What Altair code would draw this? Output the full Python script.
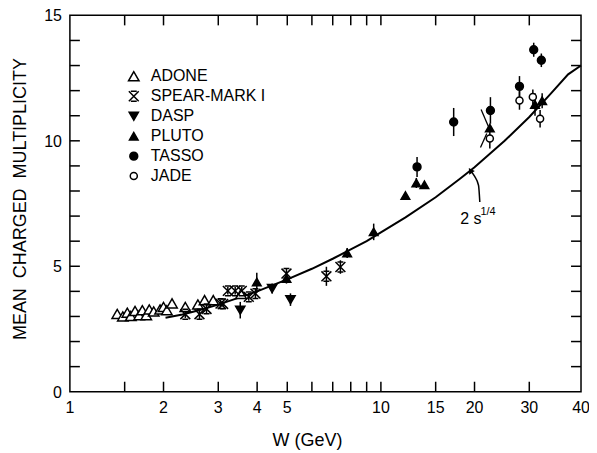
import altair as alt
import pandas as pd

# ---------------- data ----------------
series = ["ADONE", "SPEAR-MARK I", "DASP", "PLUTO", "TASSO", "JADE"]

adone_w = [1.42, 1.48, 1.53, 1.57, 1.62, 1.67, 1.71, 1.76, 1.80, 1.86, 1.95, 2.00, 2.05, 2.13, 2.35, 2.58, 2.71, 2.89, 3.55]
adone_m = [3.10, 3.00, 3.15, 3.02, 3.22, 3.05, 3.25, 3.05, 3.28, 3.20, 3.28, 3.38, 3.25, 3.52, 3.38, 3.48, 3.65, 3.65, 3.90]
adone_e = [0] * 19

spear_w = [2.35, 2.61, 2.75, 3.05, 3.11, 3.22, 3.40, 3.57, 3.76, 3.95, 4.97, 6.68, 7.41]
spear_m = [3.09, 3.09, 3.30, 3.51, 3.50, 4.02, 4.02, 4.02, 3.78, 3.91, 4.71, 4.60, 4.97]
spear_e = [0.15, 0.20, 0.20, 0.15, 0.10, 0.15, 0.15, 0.15, 0.15, 0.20, 0.20, 0.38, 0.27]

dasp_w = [3.53, 4.47, 5.12]
dasp_m = [3.25, 4.11, 3.67]
dasp_e = [0.33, 0.20, 0.25]

pluto_w = [3.99, 4.97, 7.79, 9.48, 11.99, 13.0, 13.8, 22.4, 31.3, 33.0]
pluto_m = [4.37, 4.51, 5.53, 6.37, 7.82, 8.32, 8.25, 10.51, 11.45, 11.60]
pluto_e = [0.37, 0.20, 0.20, 0.33, 0.0, 0.20, 0.0, 0.0, 0.45, 0.30]

tasso_w = [13.07, 17.14, 22.5, 27.9, 31.0, 32.8]
tasso_m = [8.96, 10.75, 11.21, 12.17, 13.63, 13.21]
tasso_e = [0.40, 0.56, 0.53, 0.41, 0.28, 0.27]

jade_w = [22.4, 27.9, 30.8, 32.5]
jade_m = [10.09, 11.61, 11.75, 10.88]
jade_e = [0.40, 0.37, 0.30, 0.35]

# theory curve 2 s^(1/4)
curve_w = [2.03, 2.3, 2.6, 3.0, 3.5, 4.0, 5.0, 6.0, 7.0, 8.0, 9.0, 10, 12, 15, 18, 20, 25, 30, 35, 40, 44]
curve_m = [2.95, 3.08, 3.25, 3.47, 3.75, 4.0, 4.48, 4.9, 5.3, 5.67, 6.0, 6.35, 6.95, 7.75, 8.5, 8.95, 10.0, 10.95, 11.85, 12.65, 13.0]

# slanted error marks on the PLUTO point near 22 GeV
slash_w1 = [21.0, 20.9]
slash_m1 = [11.25, 9.73]
slash_w2 = [22.2, 21.9]
slash_m2 = [10.55, 10.29]

# arrow pointing at the curve
arrow_w = [20.8, 20.6, 20.0, 19.4]
arrow_m = [7.56, 8.23, 8.59, 8.82]

# axis ticks and labels
X_MIN, X_MAX, Y_MIN, Y_MAX = 1, 44, 0, 15
x_ticks = [1.5, 2, 3, 4, 5, 6, 7, 8, 9, 10, 15, 20, 30]
x_label_vals = [1, 2, 3, 4, 5, 10, 15, 20, 30, 44]
x_label_text = ["1", "2", "3", "4", "5", "10", "15", "20", "30", "40"]
y_ticks = list(range(1, 15))
y_label_vals = [0, 5, 10, 15]
y_label_text = ["0", "5", "10", "15"]
x_title = "W (GeV)"
y_title = "MEAN\u00a0\u00a0CHARGED\u00a0\u00a0MULTIPLICITY"

# ---------------- tables ----------------
rows = []
for name, ws, ms, es in [
    ("ADONE", adone_w, adone_m, adone_e),
    ("SPEAR-MARK I", spear_w, spear_m, spear_e),
    ("DASP", dasp_w, dasp_m, dasp_e),
    ("PLUTO", pluto_w, pluto_m, pluto_e),
    ("TASSO", tasso_w, tasso_m, tasso_e),
    ("JADE", jade_w, jade_m, jade_e),
]:
    for w, m, e in zip(ws, ms, es):
        rows.append({"exp": name, "W": w, "M": m, "lo": m - e, "hi": m + e, "e": e})
pts = pd.DataFrame(rows)
errs = pts[pts["e"] > 0]

curve = pd.DataFrame({"W": curve_w, "M": curve_m})
slash = pd.DataFrame({"W": slash_w1, "M": slash_m1, "W2": slash_w2, "M2": slash_m2})
arrow = pd.DataFrame({"W": arrow_w, "M": arrow_m, "o": list(range(len(arrow_w)))})
head = arrow.tail(1)
ann_main = pd.DataFrame({"W": [18.0], "M": [6.67], "t": ["2 s"]})
ann_sup = pd.DataFrame({"W": [20.9], "M": [7.05], "t": ["1/4"]})
xl = pd.DataFrame({"W": x_label_vals, "t": x_label_text})
yl = pd.DataFrame({"M": y_label_vals, "t": y_label_text})
xtitle = pd.DataFrame({"t": [x_title]})
ytitle = pd.DataFrame({"t": [y_title]})

FONT = "Liberation Sans"
W_PX, H_PX, TICK = 512, 377, 10
# half a tick length (5 px) in data units of each scale: tick glyphs are centred there
hy = (TICK / 2) / H_PX * (Y_MAX - Y_MIN)
hx = (X_MAX / X_MIN) ** ((TICK / 2) / W_PX)
vticks = pd.DataFrame({
    "W": x_ticks + x_ticks,
    "M": [Y_MIN + hy] * len(x_ticks) + [Y_MAX - hy] * len(x_ticks),
})
hticks = pd.DataFrame({
    "W": [X_MIN * hx] * len(y_ticks) + [X_MAX / hx] * len(y_ticks),
    "M": y_ticks + y_ticks,
})

xscale = alt.Scale(type="log", domain=[X_MIN, X_MAX], nice=False)
yscale = alt.Scale(domain=[Y_MIN, Y_MAX], nice=False)


def X(field="W:Q"):
    return alt.X(field, scale=xscale, axis=None)


def Y(field="M:Q"):
    return alt.Y(field, scale=yscale, axis=None)


line = alt.Chart(curve).mark_line(color="black", strokeWidth=2).encode(x=X(), y=Y())

# tick labels and axis titles
x_labels = alt.Chart(xl).mark_text(font=FONT, fontSize=16, color="black", align="center",
                                   baseline="top").encode(
    x=X(), y=alt.value(H_PX + 8), text="t:N")
y_labels = alt.Chart(yl).mark_text(font=FONT, fontSize=16, color="black", align="right",
                                   baseline="middle", dy=1).encode(
    y=Y(), x=alt.value(-8), text="t:N")
x_title_mark = alt.Chart(xtitle).mark_text(font=FONT, fontSize=18, color="black", align="center",
                                           baseline="alphabetic").encode(
    x=alt.value(238), y=alt.value(H_PX + 54), text="t:N")
y_title_mark = alt.Chart(ytitle).mark_text(font=FONT, fontSize=18, color="black", align="center",
                                           baseline="alphabetic", angle=270).encode(
    x=alt.value(-44), y=alt.value(184), text="t:N")

ebars = alt.Chart(errs).mark_rule(color="black", strokeWidth=1.5).encode(
    x=X(), y=Y("lo:Q"), y2="hi:Q")

slashes = alt.Chart(slash).mark_rule(color="black", strokeWidth=1.3).encode(
    x=X(), x2="W2:Q", y=Y(), y2="M2:Q")

x_path = "M-1,-1L1,1M1,-1L-1,1M-0.6,-1L0.6,-1M-0.6,1L0.6,1"
shapes = ["triangle-up", x_path, "triangle-down", "triangle-up", "circle", "circle"]
fills = ["white", "black", "black", "black", "black", "white"]
sizes = [110, 50, 140, 140, 90, 70]

points = alt.Chart(pts).mark_point(filled=True, strokeWidth=1.5, opacity=1).encode(
    x=X(), y=Y(),
    shape=alt.Shape("exp:N", scale=alt.Scale(domain=series, range=shapes), title=None),
    fill=alt.Fill("exp:N", scale=alt.Scale(domain=series, range=fills), title=None),
    stroke=alt.Stroke("exp:N", scale=alt.Scale(domain=series, range=["black"] * 6), title=None),
    size=alt.Size("exp:N", scale=alt.Scale(domain=series, range=sizes), title=None),
)

# inward ticks on all four sides, drawn as short line glyphs (10 px long)
vtick_marks = alt.Chart(vticks).mark_point(shape="M0,-1L0,1", size=TICK * TICK, filled=False,
                                           stroke="black", strokeWidth=1.5, opacity=1).encode(
    x=X(), y=Y())
htick_marks = alt.Chart(hticks).mark_point(shape="M-1,0L1,0", size=TICK * TICK, filled=False,
                                           stroke="black", strokeWidth=1.5, opacity=1).encode(
    x=X(), y=Y())

arrow_line = alt.Chart(arrow).mark_line(color="black", strokeWidth=1.5, interpolate="monotone").encode(
    x=X(), y=Y(), order="o:Q")
arrow_head = alt.Chart(head).mark_point(shape="triangle-up", filled=True, color="black",
                                        size=45, angle=326, opacity=1).encode(x=X(), y=Y())

label_main = alt.Chart(ann_main).mark_text(align="left", baseline="alphabetic", font=FONT,
                                           fontSize=16, color="black").encode(
    x=X(), y=Y(), text="t:N")
label_sup = alt.Chart(ann_sup).mark_text(align="left", baseline="alphabetic", font=FONT,
                                         fontSize=11, color="black").encode(
    x=X(), y=Y(), text="t:N")

chart = alt.layer(line, x_labels, y_labels, x_title_mark, y_title_mark, ebars, slashes, points,
                  arrow_line, arrow_head, label_main, label_sup,
                  vtick_marks, htick_marks).properties(
    width=W_PX, height=H_PX,
    padding={"left": 62, "top": 7, "right": 8, "bottom": 58},
    autosize=alt.AutoSizeParams(type="none"),
    background="white",
).configure_view(
    stroke="black", strokeWidth=1.5
).configure_legend(
    orient="none", legendX=56, legendY=53, padding=0,
    labelFont=FONT, labelFontSize=16, labelColor="black", labelOffset=9,
    rowPadding=4, symbolStrokeWidth=1.5,
)

chart.save("out.html", embed_options={"renderer": "svg", "actions": False})
